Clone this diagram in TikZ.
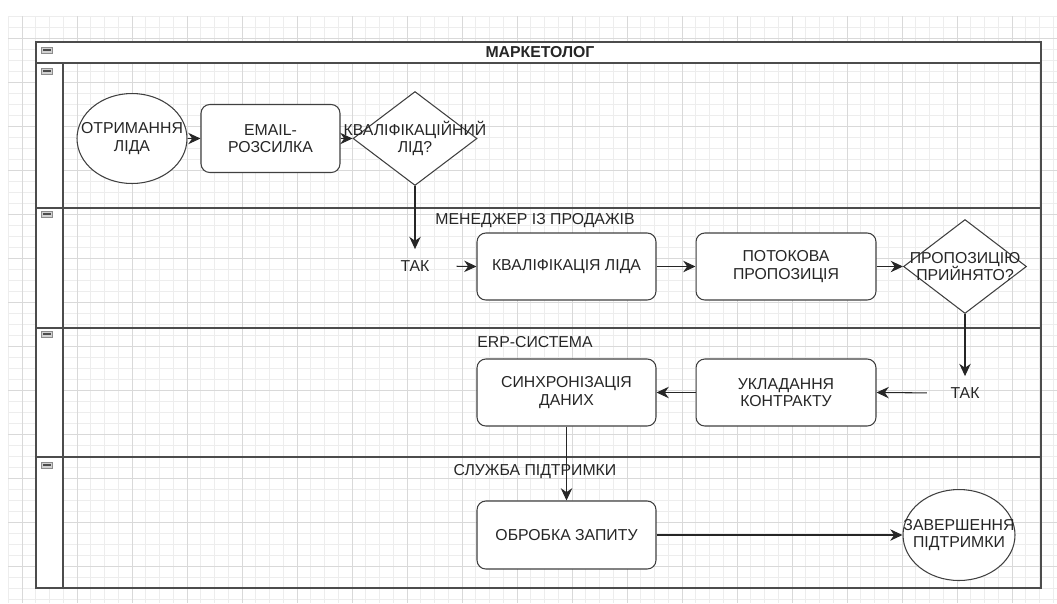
\documentclass[tikz,border=0pt]{standalone}
\usepackage{fontspec}
\setmainfont{Liberation Sans}
\usetikzlibrary{shapes.geometric,arrows.meta}

\begin{document}
\begin{tikzpicture}[x=0.02cm, y=-0.02cm,
  font=\fontsize{9}{10}\selectfont,
  minorgrid/.style={black!7, line width=0.4pt},
  majorgrid/.style={black!15, line width=0.5pt},
  lane/.style={draw=black!70, line width=1.1pt},
  task/.style={draw=black!75, line width=0.6pt, fill=white, rounded corners=5pt,
    align=center, text=black!85, minimum height=1.34cm, inner sep=0pt},
  terminal/.style={ellipse, draw=black!75, line width=0.6pt, fill=white, inner sep=0pt},
  decision/.style={diamond, draw=black!75, line width=0.6pt, fill=white, inner sep=0pt},
  flow/.style={-{Stealth[length=7pt,width=6.5pt]}, line width=0.6pt, black!85},
  answer/.style={text=black!85},
  lanename/.style={text=black!85},
  icon/.style={draw=black!45, fill=black!18, minimum width=0.22cm, minimum height=0.12cm,
    inner sep=0pt, path picture={\draw[black!70, line width=0.6pt]
      ([xshift=-2pt]path picture bounding box.center) -- ([xshift=2pt]path picture bounding box.center);}}
]

\useasboundingbox (0,0) rectangle (1057,603);

% background grid
\foreach \i in {0,...,76}
  \draw[minorgrid] ({8.25+13.75*\i},16) -- ({8.25+13.75*\i},603);
\foreach \j in {0,...,53}
  \draw[minorgrid] (8,{16+11*\j}) -- (1057,{16+11*\j});
\foreach \i in {0,...,18}
  \draw[majorgrid] ({22+55*\i},16) -- ({22+55*\i},603);
\foreach \j in {0,...,12}
  \draw[majorgrid] (8,{38+44*\j}) -- (1057,{38+44*\j});

% pool and lanes
\fill[white] (36,42) rectangle (1041,63);
\fill[white] (36,63) rectangle (63,588);
\draw[lane] (36,42) rectangle (1041,588);
\draw[lane] (36,63) -- (1041,63);
\draw[lane] (63,63) -- (63,588);
\draw[lane] (36,208) -- (1041,208);
\draw[lane] (36,328) -- (1041,328);
\draw[lane] (36,457) -- (1041,457);

\node[icon] (ic0) at (47,50) {};
\node[icon] (ic1) at (47,71) {};
\node[icon] (ic2) at (47,214) {};
\node[icon] (ic3) at (47,334) {};
\node[icon] (ic4) at (47,465) {};

\node[font=\fontsize{9}{10}\selectfont\bfseries, text=black!85] (pooltitle) at (540,52) {МАРКЕТОЛОГ};
\node[lanename] (lnsales) at (535,221) {МЕНЕДЖЕР ІЗ ПРОДАЖІВ};
\node[lanename] (lnerp) at (535,342) {ERP-СИСТЕМА};
\node[lanename] (lnsupport) at (535,472) {СЛУЖБА ПІДТРИМКИ};

% marketer
\node[terminal, minimum width=2.2cm, minimum height=1.8cm,
  label={[align=center, text=black!85]center:{ОТРИМАННЯ\\ЛІДА}}] (lead) at (132,138.5) {};
\node[task, minimum width=2.78cm, minimum height=1.36cm] (mailing) at (270.5,138.5) {EMAIL-\\РОЗСИЛКА};
\node[decision, minimum width=2.48cm, minimum height=1.88cm,
  label={[align=center, text=black!85]center:{КВАЛІФІКАЦІЙНИЙ\\ЛІД?}}] (qualq) at (415,138.5) {};

% sales manager
\node[answer] (tak1) at (415,266) {ТАК};
\node[task, minimum width=3.58cm] (qual) at (566.5,266.5) {КВАЛІФІКАЦІЯ ЛІДА};
\node[task, minimum width=3.6cm] (offer) at (786,266.5) {ПОТОКОВА\\ПРОПОЗИЦІЯ};
\node[decision, minimum width=2.46cm, minimum height=1.88cm,
  label={[align=center, text=black!85]center:{ПРОПОЗИЦІЮ\\ПРИЙНЯТО?}}] (accq) at (965,266.5) {};

% ERP
\node[answer] (tak2) at (965,393) {ТАК};
\node[task, minimum width=3.6cm] (contract) at (786,392.5) {УКЛАДАННЯ\\КОНТРАКТУ};
\node[task, minimum width=3.58cm] (sync) at (566.5,392.5) {СИНХРОНІЗАЦІЯ\\ДАНИХ};

% support
\node[task, minimum width=3.58cm, minimum height=1.36cm] (proc) at (566.5,535) {ОБРОБКА ЗАПИТУ};
\node[terminal, minimum width=2.24cm, minimum height=1.82cm,
  label={[align=center, text=black!85]center:{ЗАВЕРШЕННЯ\\ПІДТРИМКИ}}] (finish) at (959,535) {};

% connectors
\draw[flow] (lead) -- (mailing);
\draw[flow] (mailing) -- (qualq);
\draw[flow, shorten >=3pt] (qualq.south) -- (tak1.north);
\draw[flow, shorten <=12pt] (tak1.east) -- (qual.west);
\draw[flow] (qual) -- (offer);
\draw[flow] (offer) -- (accq);
\draw[flow, shorten >=3pt] (accq.south) -- (tak2.north);
\draw[flow, shorten <=10pt] (tak2.west) -- (contract.east);
\draw[flow] (contract) -- (sync);
\draw[flow] (sync) -- (proc);
\draw[flow] (proc) -- (finish);

\end{tikzpicture}
\end{document}
